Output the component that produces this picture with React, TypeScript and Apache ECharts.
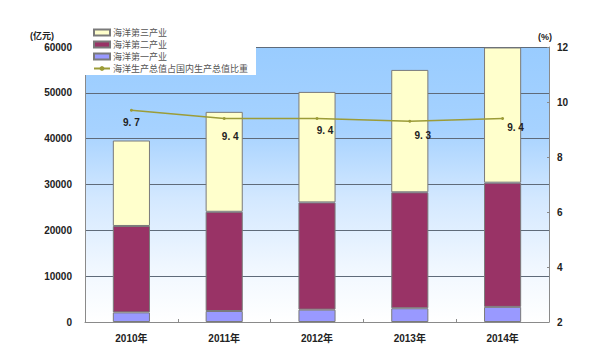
import React, { useEffect, useRef } from "react";
import * as echarts from "echarts";

const categories = ["2010年", "2011年", "2012年", "2013年", "2014年"];
const primary = [2100, 2400, 2700, 3000, 3300];
const secondary = [18850, 21650, 23400, 25300, 27100];
const tertiary = [18650, 21800, 24100, 26700, 29500];
const ratio = [9.7, 9.4, 9.4, 9.3, 9.4];
const leftTicks = { min: 0, max: 60000, interval: 10000 };
const rightTicks = { min: 2, max: 12, interval: 2 };
const labelOffsets = [
  [0, 12],
  [6, 18],
  [8, 12],
  [13, 14],
  [13, 9],
];

const FONT = "Arial, 'Liberation Sans', 'Noto Sans CJK SC', sans-serif";

export default function App() {
  const ref = useRef<HTMLDivElement>(null);
  useEffect(() => {
    if (!ref.current) return;
    const chart = echarts.init(ref.current, undefined, { renderer: "svg" });
    const barStyle = (color: string) => ({
      color,
      borderColor: "#7a7a7a",
      borderWidth: 1,
    });
    chart.setOption({
      animation: false,
      backgroundColor: "#ffffff",
      textStyle: { fontFamily: FONT },
      grid: {
        left: 85,
        right: 51,
        top: 47,
        bottom: 29,
        show: true,
        borderWidth: 0,
        backgroundColor: new echarts.graphic.LinearGradient(0, 0, 0, 1, [
          { offset: 0, color: "#99ccff" },
          { offset: 0.3, color: "#a6d2ff" },
          { offset: 0.55, color: "#d3e8ff" },
          { offset: 0.8, color: "#f0f7ff" },
          { offset: 1, color: "#ffffff" },
        ]),
      },
      legend: {
        orient: "vertical",
        left: 85,
        top: 24,
        padding: [4, 8, 2, 8],
        itemWidth: 16,
        itemHeight: 6,
        itemGap: 3,
        backgroundColor: "#ffffff",
        textStyle: { fontSize: 9, color: "#555", fontFamily: FONT, padding: [0, 0, 0, -2] },
        data: [
          { name: "海洋第三产业", icon: "rect" },
          { name: "海洋第二产业", icon: "rect" },
          { name: "海洋第一产业", icon: "rect" },
          { name: "海洋生产总值占国内生产总值比重" },
        ],
      },
      graphic: [
        {
          type: "text",
          left: 30,
          top: 31,
          style: { text: "(亿元)", fontSize: 9, fontWeight: "bold", fill: "#222", fontFamily: FONT },
        },
        {
          type: "text",
          left: 538,
          top: 32,
          style: { text: "(%)", fontSize: 9, fontWeight: "bold", fill: "#222", fontFamily: FONT },
        },
      ],
      xAxis: {
        type: "category",
        data: categories,
        axisLine: { lineStyle: { color: "#8a8a8a", width: 1 } },
        axisTick: { show: true, inside: true, length: 3, lineStyle: { color: "#8a8a8a" } },
        axisLabel: { fontSize: 10, fontWeight: "bold", color: "#222", margin: 11, fontFamily: FONT },
      },
      yAxis: [
        {
          type: "value",
          ...leftTicks,
          axisLine: { show: true, lineStyle: { color: "#8a8a8a" } },
          axisTick: { show: false },
          axisLabel: {
            fontSize: 10,
            fontWeight: "bold",
            color: "#222",
            margin: 13,
            fontFamily: FONT,
            formatter: (v: number) => String(v),
          },
          splitLine: { show: true, lineStyle: { color: "#5f6b7a", width: 1 } },
        },
        {
          type: "value",
          ...rightTicks,
          position: "right",
          axisLine: { show: true, lineStyle: { color: "#8a8a8a" } },
          axisTick: { show: true, inside: true, length: 2, lineStyle: { color: "#8a8a8a" } },
          axisLabel: { fontSize: 10, fontWeight: "bold", color: "#222", margin: 8, fontFamily: FONT },
          splitLine: { show: false },
        },
      ],
      series: [
        {
          name: "海洋第一产业",
          type: "bar",
          stack: "gdp",
          barWidth: "40%",
          data: primary,
          itemStyle: barStyle("#9999ff"),
        },
        {
          name: "海洋第二产业",
          type: "bar",
          stack: "gdp",
          data: secondary,
          itemStyle: barStyle("#993366"),
        },
        {
          name: "海洋第三产业",
          type: "bar",
          stack: "gdp",
          data: tertiary,
          itemStyle: barStyle("#ffffcc"),
        },
        {
          name: "海洋生产总值占国内生产总值比重",
          type: "line",
          yAxisIndex: 1,
          symbol: "circle",
          symbolSize: 3,
          lineStyle: { color: "#9c9c38", width: 1.5 },
          itemStyle: { color: "#9c9c38" },
          z: 5,
          data: ratio.map((v, i) => ({ value: v, label: { offset: labelOffsets[i] } })),
          label: {
            show: true,
            position: "inside",
            fontSize: 10,
            fontWeight: "bold",
            color: "#222",
            fontFamily: FONT,
            formatter: (p: any) => Number(p.value).toFixed(1).replace(".", ". "),
          },
        },
      ],
    });
    return () => chart.dispose();
  }, []);
  return (
    <div
      ref={ref}
      style={{ position: "fixed", left: 0, top: 0, width: 600, height: 351 }}
    />
  );
}
